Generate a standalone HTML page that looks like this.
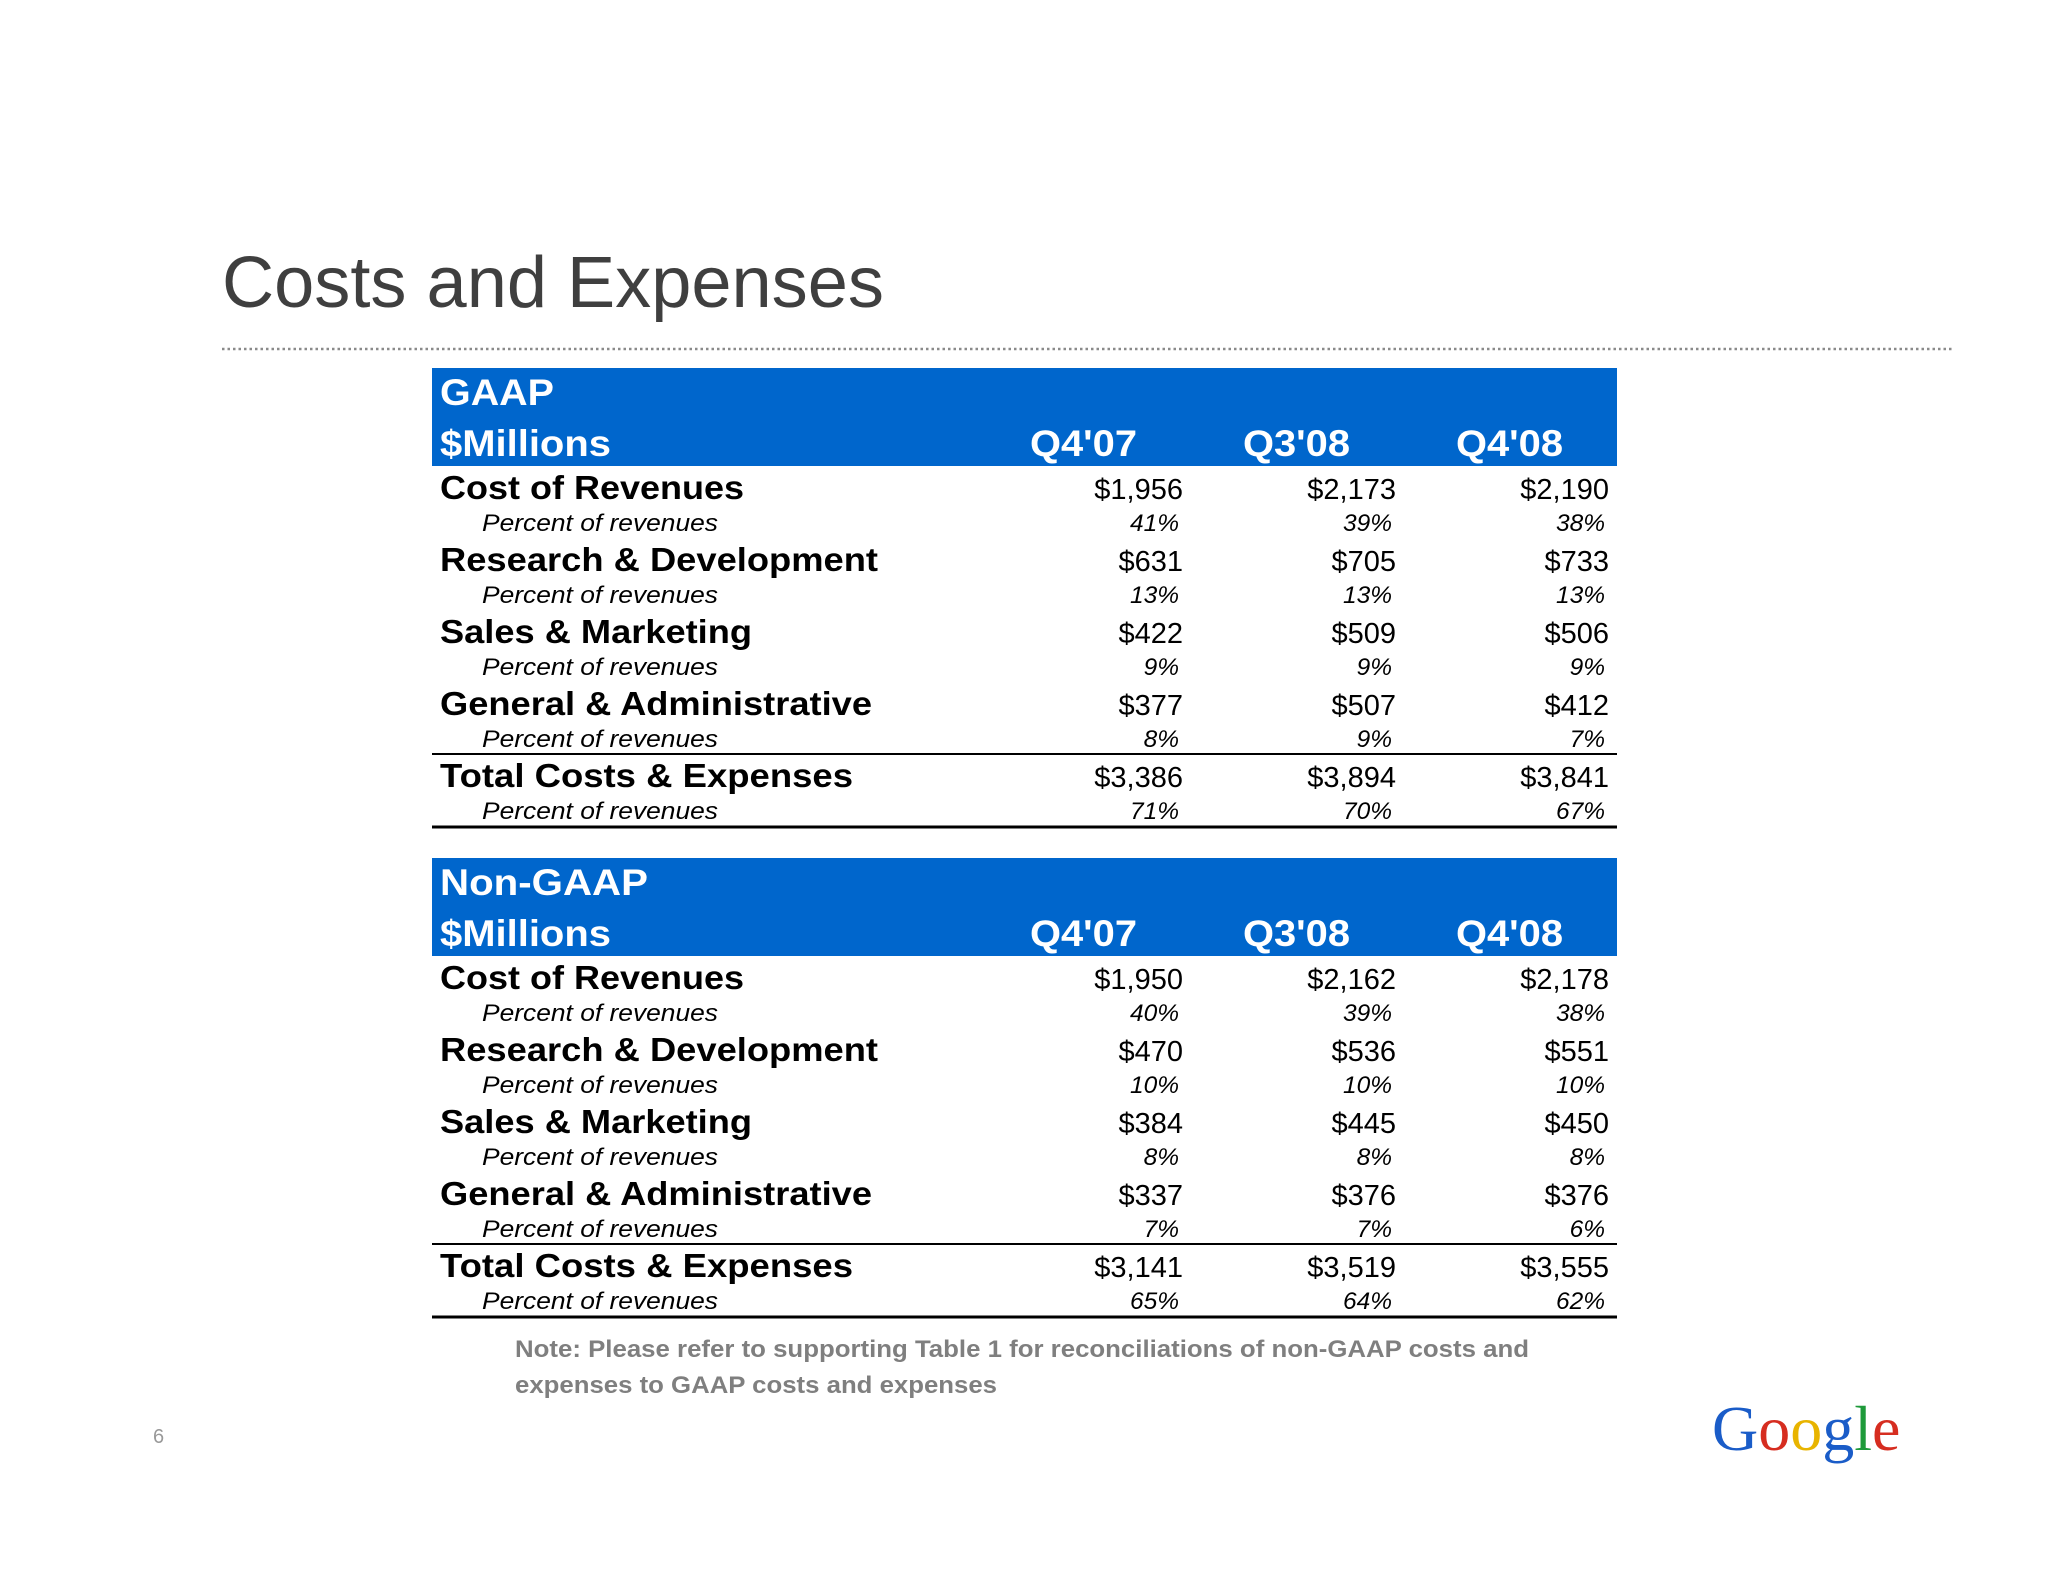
<!DOCTYPE html>
<html><head><meta charset="utf-8"><style>
html,body{margin:0;padding:0;background:#fff}
svg{display:block}
</style></head><body>
<svg id="s" width="2048" height="1582" viewBox="0 0 2048 1582" xmlns="http://www.w3.org/2000/svg" font-family="Liberation Sans, Arial, sans-serif">
<text x="222" y="307" font-size="72" fill="#3f3f3f" textLength="662" lengthAdjust="spacingAndGlyphs">Costs and Expenses</text>
<line x1="222" y1="349" x2="1953" y2="349" stroke="#8a8a8a" stroke-width="2.5" stroke-dasharray="2.5 3"/>
<g id="tables"></g>
<text x="515" y="1357" font-size="24.5" font-weight="bold" fill="#7f7f7f" textLength="1014" lengthAdjust="spacingAndGlyphs">Note: Please refer to supporting Table 1 for reconciliations of non-GAAP costs and</text>
<text x="515" y="1393" font-size="24.5" font-weight="bold" fill="#7f7f7f" textLength="482" lengthAdjust="spacingAndGlyphs">expenses to GAAP costs and expenses</text>
<text x="153" y="1443" font-size="20" fill="#999">6</text>
<g font-family="Liberation Serif, serif" font-size="64">
<text x="1712" y="1450"><tspan fill="#1a5cc8">G</tspan><tspan fill="#d62d20">o</tspan><tspan fill="#e8b400">o</tspan><tspan fill="#1a5cc8">g</tspan><tspan fill="#1e9a3a">l</tspan><tspan fill="#d62d20">e</tspan></text>
</g>
</svg>
<script>
const categories = ["Cost of Revenues","Research & Development","Sales & Marketing","General & Administrative","Total Costs & Expenses"];
const quarters = ["Q4'07","Q3'08","Q4'08"];
const gaapValues = [["$1,956","$2,173","$2,190"],["$631","$705","$733"],["$422","$509","$506"],["$377","$507","$412"],["$3,386","$3,894","$3,841"]];
const gaapPercents = [["41%","39%","38%"],["13%","13%","13%"],["9%","9%","9%"],["8%","9%","7%"],["71%","70%","67%"]];
const nonGaapValues = [["$1,950","$2,162","$2,178"],["$470","$536","$551"],["$384","$445","$450"],["$337","$376","$376"],["$3,141","$3,519","$3,555"]];
const nonGaapPercents = [["40%","39%","38%"],["10%","10%","10%"],["8%","8%","8%"],["7%","7%","6%"],["65%","64%","62%"]];
const labelWidths=[304,438,312,432,413];
const NS="http://www.w3.org/2000/svg";
const g=document.getElementById('tables');
function mk(tag,attrs,txt){const e=document.createElementNS(NS,tag);for(const k in attrs)e.setAttribute(k,attrs[k]);if(txt!=null)e.textContent=txt;g.appendChild(e);return e;}
function table(top,title,titleW,vals,pcts,prefix){
  let r=mk('rect',{x:432,y:top,width:1185,height:98,fill:'#0066cc'});
  
  
  let t=mk('text',{x:440,y:top+37,'font-size':37,'font-weight':'bold',fill:'#fff',textLength:titleW,lengthAdjust:'spacingAndGlyphs'},title);
  
  
  t=mk('text',{x:440,y:top+88,'font-size':37,'font-weight':'bold',fill:'#fff',textLength:171,lengthAdjust:'spacingAndGlyphs'},'$Millions');
  
  
  const qx=[1030,1243,1456];
  quarters.forEach((q,i)=>{t=mk('text',{x:qx[i],y:top+88,'font-size':37,'font-weight':'bold',fill:'#fff',textLength:107,lengthAdjust:'spacingAndGlyphs'},q);
    
    });
  const vx=[1183,1396,1609], px=[1179,1392,1605];
  categories.forEach((c,i)=>{
    const y=top+120+i*72;
    t=mk('text',{x:440,y:y+11,'font-size':33,'font-weight':'bold',fill:'#000',textLength:labelWidths[i],lengthAdjust:'spacingAndGlyphs'},c);
    
    
    vals[i].forEach((v,j)=>{t=mk('text',{x:vx[j],y:y+11,'font-size':29,fill:'#000','text-anchor':'end'},v);
      
      });
    t=mk('text',{x:482,y:y+43,'font-size':24.5,'font-style':'italic',fill:'#000',textLength:236,lengthAdjust:'spacingAndGlyphs'},'Percent of revenues');
    
    
    pcts[i].forEach((v,j)=>{t=mk('text',{x:px[j],y:y+43,'font-size':24.5,'font-style':'italic',fill:'#000','text-anchor':'end'},v);
      
      });
  });
  let l=mk('line',{x1:432,x2:1617,y1:top+386,y2:top+386,stroke:'#000','stroke-width':2});
  
  
  l=mk('line',{x1:432,x2:1617,y1:top+459,y2:top+459,stroke:'#000','stroke-width':3});
  
  
}
table(368,'GAAP',114,gaapValues,gaapPercents,'gaap');
table(858,'Non-GAAP',208,nonGaapValues,nonGaapPercents,'non-gaap');
</script>
</body></html>
